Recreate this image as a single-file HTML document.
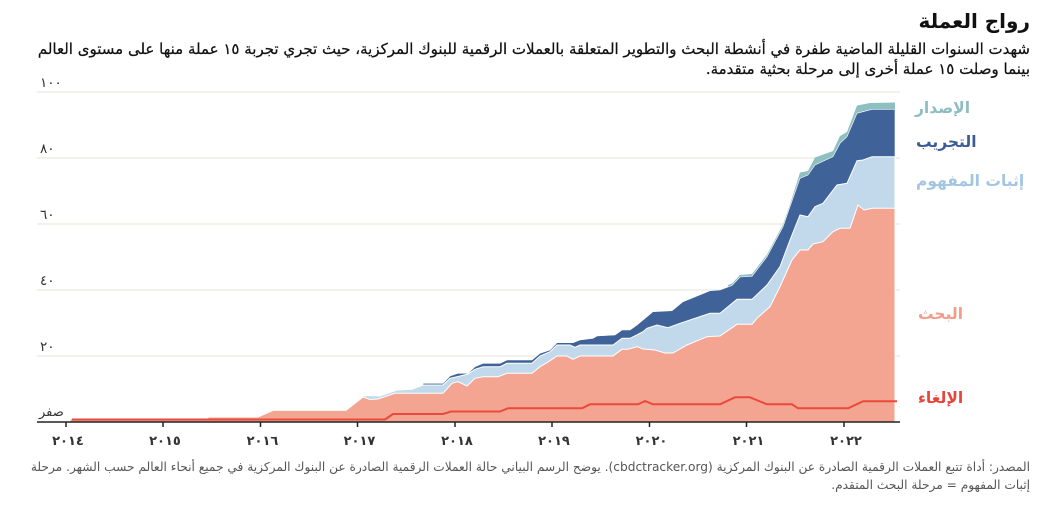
<!DOCTYPE html>
<html lang="ar">
<head>
<meta charset="utf-8">
<style>
  html,body{margin:0;padding:0;background:#fff;}
  body{width:1059px;height:505px;position:relative;overflow:hidden;font-family:"DejaVu Sans","Liberation Sans",sans-serif;}
  .rt{position:absolute;right:29px;direction:rtl;text-align:right;white-space:nowrap;}
  #title{top:7px;font-size:20px;font-weight:bold;color:#111;line-height:28px;}
  #sub1{top:39px;font-size:15px;color:#111;line-height:20px;-webkit-text-stroke:0.25px #111;}
  #sub2{top:59px;font-size:15px;color:#111;line-height:20px;-webkit-text-stroke:0.25px #111;}
  #f1{top:459px;font-size:12.2px;color:#555;line-height:17px;}
  #f2{top:477px;font-size:12.2px;color:#555;line-height:17px;}
  svg{position:absolute;left:0;top:0;}
  .yl{font-family:"DejaVu Sans",sans-serif;font-size:13.5px;fill:#333;letter-spacing:3px;}
  .xl{font-family:"DejaVu Sans",sans-serif;font-size:13px;font-weight:bold;fill:#333;letter-spacing:3px;}
  .lg{font-family:"DejaVu Sans",sans-serif;font-size:15.5px;font-weight:bold;}
</style>
</head>
<body>
<svg width="1059" height="505" viewBox="0 0 1059 505" xmlns="http://www.w3.org/2000/svg">
  <!-- gridlines -->
  <g stroke="#ebe9df" stroke-width="1.2">
    <line x1="37" y1="92" x2="900" y2="92"/>
    <line x1="37" y1="158" x2="900" y2="158"/>
    <line x1="37" y1="224" x2="900" y2="224"/>
    <line x1="37" y1="290" x2="900" y2="290"/>
    <line x1="37" y1="356" x2="900" y2="356"/>
  </g>
  <!-- y labels -->
  <text class="yl" x="40" y="87">١٠٠</text>
  <text class="yl" x="40" y="153">٨٠</text>
  <text class="yl" x="40" y="219">٦٠</text>
  <text class="yl" x="40" y="285">٤٠</text>
  <text class="yl" x="40" y="351">٢٠</text>
  <text x="39" y="416" style="font-family:'DejaVu Sans',sans-serif;font-size:13px;fill:#333;">صفر</text>

  <!-- teal (launched) -->
  <polygon fill="#8fc0c1" points="728,285 732,283.5 740,275 752,274 767,254.5 783,224.5 790,204.5 800,172.5 808,171 815,157.5 833,151 840,136 847,132 857,105.5 870,103 895,102.5 895,422 728,422"/>
  <!-- dark blue (pilot) -->
  <polygon fill="#3f6299" stroke="#ffffff" stroke-width="0.6" points="423,383.3 443,383.3 450,376 458,373.3 468,373.3 475,366.7 483,363.3 500,363.3 507,360 532,360 540,353.3 550,350 557,342.7 573,342.7 580,340 593,338.3 597,336 615,335 622,330 630,330 637,325 653,311.7 672,310.7 683,301.7 710,290.7 720,290 732,285.5 740,277 752,276.3 767,256.7 783,226.7 790,206.7 800,178.3 808,175 815,165 833,156.7 840,143.3 847,136.7 857,113.3 872,109.3 895,109.3 895,422 423,422"/>
  <!-- light blue (proof of concept) -->
  <polygon fill="#c2d9ec" stroke="#ffffff" stroke-width="1" points="363,396 368,395.5 380,396 397,390 412,389.3 423,385 443,385 450,378.3 460,376 468,374 475,369.3 483,366.7 500,366.7 507,363.3 532,363.3 540,356 550,351.7 557,345 570,345 575,347.3 580,345 613,345 622,338.3 630,338.3 643,331.7 647,328.3 657,325 668,327.7 680,323.3 710,313.3 720,313.3 737,299.3 752,299.3 767,285 780,266.7 790,240 800,215 808,216.7 815,206.7 823,203.3 837,185 847,183.3 857,160.7 863,160 872,156.7 895,156.7 895,422 363,422"/>
  <!-- salmon (research) -->
  <polygon fill="#f4a591" stroke="#ffffff" stroke-width="1" points="70,419 205,419 209,417 258,417 273,410.4 346,410.4 363,397 370,399.5 378,399 395,393.3 443,393.3 452,383.3 458,381.7 467,386 475,378.3 483,376.7 498,376.7 507,373.3 532,373.3 540,366.7 547,362.7 557,356 567,356 573,359.3 580,356 613,356 622,349.3 628,349.3 637,346.7 643,349 655,350 665,353 673,353 687,345 707,336.7 720,336 737,324.3 752,324.3 757,318.3 770,306.7 780,286.7 792,260 800,250 808,250 813,244 823,241.7 833,231.7 840,228.3 850,228.3 858,205 864,210 872,208.3 895,208.3 895,422 70,422"/>
  <!-- cancelled line -->
  <polyline fill="none" stroke="#ea4a3c" stroke-width="2" stroke-linejoin="round" points="72,419.5 385,419.5 393,414 443,414 451,411.5 500,411.5 508,408.3 582,408.3 590,404.3 638,404.3 645,401 653,404.3 720,404.3 735,397.3 750,397.3 767,404.3 792,404.3 798,408.3 848,408.3 863,401.3 897,401.3"/>

  <!-- axis -->
  <line x1="37" y1="422" x2="900" y2="422" stroke="#222" stroke-width="1.5"/>
  <g stroke="#222" stroke-width="1.5">
    <line x1="66" y1="422" x2="66" y2="427"/>
    <line x1="163" y1="422" x2="163" y2="427"/>
    <line x1="260.5" y1="422" x2="260.5" y2="427"/>
    <line x1="357.5" y1="422" x2="357.5" y2="427"/>
    <line x1="455" y1="422" x2="455" y2="427"/>
    <line x1="552" y1="422" x2="552" y2="427"/>
    <line x1="649.5" y1="422" x2="649.5" y2="427"/>
    <line x1="746.5" y1="422" x2="746.5" y2="427"/>
    <line x1="844" y1="422" x2="844" y2="427"/>
  </g>
  <g text-anchor="middle">
    <text class="xl" x="68" y="445">٢٠١٤</text>
    <text class="xl" x="165" y="445">٢٠١٥</text>
    <text class="xl" x="262.5" y="445">٢٠١٦</text>
    <text class="xl" x="359.5" y="445">٢٠١٧</text>
    <text class="xl" x="457" y="445">٢٠١٨</text>
    <text class="xl" x="554" y="445">٢٠١٩</text>
    <text class="xl" x="651.5" y="445">٢٠٢٠</text>
    <text class="xl" x="748.5" y="445">٢٠٢١</text>
    <text class="xl" x="846" y="445">٢٠٢٢</text>
  </g>

  <!-- legend -->
  <text class="lg" x="915" y="113" fill="#8dbdc0">الإصدار</text>
  <text class="lg" x="916" y="147" fill="#3b5c96">التجريب</text>
  <text class="lg" x="916" y="186" fill="#a3c5e4">إثبات المفهوم</text>
  <text class="lg" x="918" y="319" fill="#f29d87">البحث</text>
  <text class="lg" x="918" y="403" fill="#e8443a">الإلغاء</text>
</svg>

<div id="title" class="rt">رواج العملة</div>
<div id="sub1" class="rt">شهدت السنوات القليلة الماضية طفرة في أنشطة البحث والتطوير المتعلقة بالعملات الرقمية للبنوك المركزية، حيث تجري تجربة ١٥ عملة منها على مستوى العالم</div>
<div id="sub2" class="rt">بينما وصلت ١٥ عملة أخرى إلى مرحلة بحثية متقدمة.</div>
<div id="f1" class="rt">المصدر: أداة تتبع العملات الرقمية الصادرة عن البنوك المركزية (cbdctracker.org). يوضح الرسم البياني حالة العملات الرقمية الصادرة عن البنوك المركزية في جميع أنحاء العالم حسب الشهر. مرحلة</div>
<div id="f2" class="rt">إثبات المفهوم = مرحلة البحث المتقدم.</div>
</body>
</html>
